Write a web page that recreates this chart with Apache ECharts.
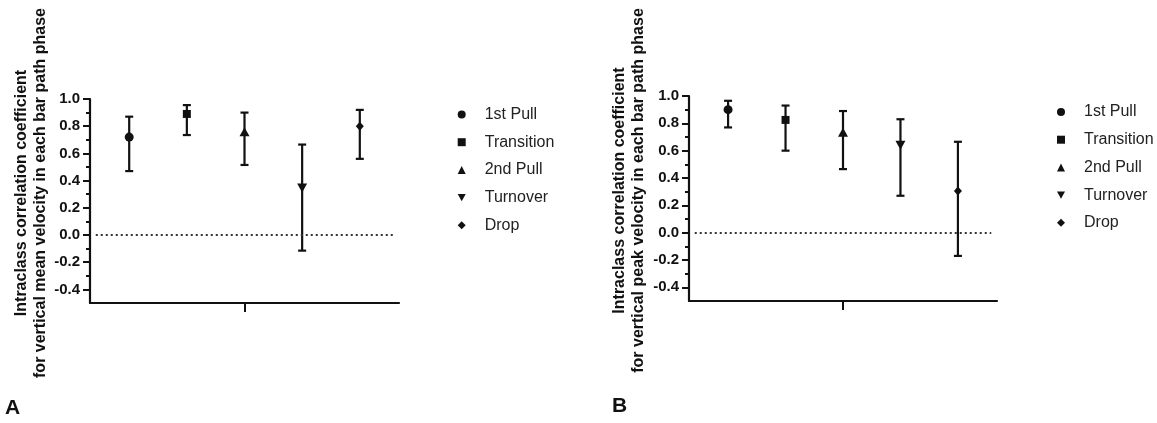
<!DOCTYPE html>
<html>
<head>
<meta charset="utf-8">
<script src="https://cdn.jsdelivr.net/npm/echarts@6/dist/echarts.min.js"></script>
<style>
html,body{margin:0;padding:0;background:#fff;}
#chart{width:1157px;height:423px;}
</style>
</head>
<body>
<div id="chart"></div>
<script>
const categories = ['1st Pull', 'Transition', '2nd Pull', 'Turnover', 'Drop'];
const symbols = ['circle', 'rect', 'triangle', 'path://M0,0L10,0L5,9Z', 'path://M5,0L10,5L5,10L0,5Z'];
const symbolSizes = [9, 8, [10, 9], [10, 9], [8, 9]];

// Panel A: vertical mean velocity
const meanICC   = [0.72, 0.89, 0.76, 0.345, 0.80];
const meanLower = [0.47, 0.735, 0.515, -0.115, 0.56];
const meanUpper = [0.87, 0.955, 0.90, 0.665, 0.92];

// Panel B: vertical peak velocity
const peakICC   = [0.90, 0.825, 0.735, 0.64, 0.305];
const peakLower = [0.77, 0.60, 0.465, 0.27, -0.17];
const peakUpper = [0.965, 0.93, 0.89, 0.83, 0.665];

const majorTicks = [-0.4, -0.2, 0.0, 0.2, 0.4, 0.6, 0.8, 1.0];
const minorTicks = [-0.3, -0.1, 0.1, 0.3, 0.5, 0.7, 0.9];

const titleA = 'Intraclass correlation coefficient\nfor vertical mean velocity in each bar path phase';
const titleB = 'Intraclass correlation coefficient\nfor vertical peak velocity in each bar path phase';

const INK = '#111';
const FONT = 'Liberation Sans, Arial, sans-serif';

function xPos(i) { return i - (categories.length - 1) / 2; }

const grids = [
  { left: 90, top: 99, width: 309, height: 204 },
  { left: 689, top: 96, width: 308, height: 205 }
];

function makeX(gi) {
  return {
    type: 'value', gridIndex: gi, min: -2.68, max: 2.68,
    axisLine: { show: true, onZero: false, lineStyle: { color: INK, width: 2.2 } },
    axisTick: { show: true, customValues: [0], length: 9, lineStyle: { color: INK, width: 2 } },
    axisLabel: { show: false },
    splitLine: { show: false }
  };
}
function makeYMain(gi, title, gap) {
  return {
    type: 'value', gridIndex: gi, min: -0.5, max: 1.0, position: 'left',
    name: title, nameLocation: 'middle', nameGap: gap, nameRotate: 90,
    nameTextStyle: { fontFamily: FONT, fontWeight: 'bold', fontSize: 16, color: INK, lineHeight: 19, align: 'center', padding: [0, 0, 0, 16] },
    axisLine: { show: true, onZero: false, lineStyle: { color: INK, width: 2.2 } },
    axisTick: { show: true, customValues: majorTicks, length: 7, lineStyle: { color: INK, width: 2 } },
    axisLabel: { show: true, customValues: majorTicks, margin: 10, fontFamily: FONT, fontWeight: 'bold', fontSize: 15, color: INK,
      formatter: v => v.toFixed(1) },
    splitLine: { show: false }
  };
}
function makeYMinor(gi) {
  return {
    type: 'value', gridIndex: gi, min: -0.5, max: 1.0, position: 'left',
    axisLine: { show: false, onZero: false },
    axisTick: { show: true, customValues: minorTicks, length: 4, lineStyle: { color: INK, width: 2 } },
    axisLabel: { show: false },
    splitLine: { show: false }
  };
}

function errorSeries(gi, yi, lower, upper) {
  return {
    type: 'custom', xAxisIndex: gi, yAxisIndex: yi, silent: true, z: 3,
    data: lower.map((l, i) => [xPos(i), l, upper[i]]),
    renderItem: function (params, api) {
      const x = api.value(0);
      const lo = api.coord([x, api.value(1)]);
      const hi = api.coord([x, api.value(2)]);
      const cap = 4;
      const style = { stroke: INK, lineWidth: 2.2, fill: 'none' };
      return {
        type: 'group',
        children: [
          { type: 'line', shape: { x1: lo[0], y1: lo[1], x2: hi[0], y2: hi[1] }, style },
          { type: 'line', shape: { x1: lo[0] - cap, y1: lo[1], x2: lo[0] + cap, y2: lo[1] }, style },
          { type: 'line', shape: { x1: hi[0] - cap, y1: hi[1], x2: hi[0] + cap, y2: hi[1] }, style }
        ]
      };
    }
  };
}

function pointSeries(gi, yi, values) {
  return categories.map((name, i) => ({
    type: 'scatter', name, xAxisIndex: gi, yAxisIndex: yi, z: 4,
    symbol: symbols[i], symbolSize: symbolSizes[i],
    itemStyle: { color: INK, opacity: 1 },
    data: [[xPos(i), values[i]]]
  }));
}

function zeroLine(gi, yi) {
  return {
    type: 'line', xAxisIndex: gi, yAxisIndex: yi, data: [], silent: true,
    markLine: {
      silent: true, symbol: 'none', label: { show: false },
      lineStyle: { color: '#333', width: 2, type: [2, 3] },
      data: [[{ coord: [-2.58, 0] }, { coord: [2.58, 0] }]]
    }
  };
}

function makeLegend(left, top) {
  return {
    orient: 'vertical', left, top,
    itemWidth: 8, itemHeight: 8, itemGap: 11.7,
    textStyle: { fontFamily: FONT, fontSize: 16, color: '#222', lineHeight: 16, padding: [0, 0, 0, 14] },
    data: categories.map((n, i) => ({ name: n, icon: symbols[i] })),
    selectedMode: false
  };
}

const option = {
  animation: false,
  backgroundColor: '#fff',
  grid: grids,
  xAxis: [makeX(0), makeX(1)],
  yAxis: [makeYMain(0, titleA, 40), makeYMinor(0), makeYMain(1, titleB, 41), makeYMinor(1)],
  legend: [makeLegend(452.7, 101.5), makeLegend(1052, 99)],
  graphic: [
    { type: 'text', left: 5, top: 398, style: { text: 'A', font: 'bold 21px ' + FONT, fill: INK } },
    { type: 'text', left: 612, top: 396, style: { text: 'B', font: 'bold 21px ' + FONT, fill: INK } }
  ],
  series: [
    zeroLine(0, 0),
    errorSeries(0, 0, meanLower, meanUpper),
    ...pointSeries(0, 0, meanICC),
    zeroLine(1, 2),
    errorSeries(1, 2, peakLower, peakUpper),
    ...pointSeries(1, 2, peakICC)
  ]
};

const chart = echarts.init(document.getElementById('chart'), null, { renderer: 'canvas' });
chart.setOption(option);
</script>
</body>
</html>
